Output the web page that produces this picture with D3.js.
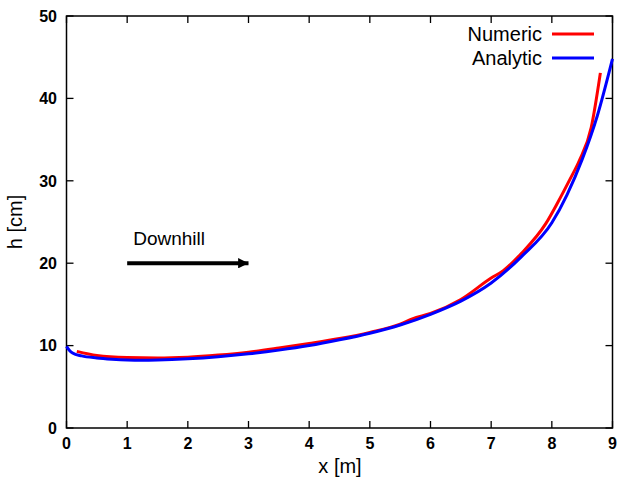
<!DOCTYPE html>
<html><head><meta charset="utf-8">
<script src="https://cdn.jsdelivr.net/npm/d3@7"></script>
<style>body{margin:0;background:#fff}svg{display:block;font-family:"Liberation Sans",Arial,sans-serif}</style>
</head><body>
<svg id="c" width="640" height="480"></svg>
<script>
const xTicks = [0,1,2,3,4,5,6,7,8,9];
const yTicks = [0,10,20,30,40,50];
const numericX = [0.17,0.5,1.0,1.5,2.0,2.5,3.0,3.5,4.0,4.5,5.0,5.5,5.7,6.0,6.5,7.0,7.2,7.5,7.9,8.1,8.3,8.45,8.65,8.8];
const numericH = [9.3,8.8,8.55,8.5,8.6,8.85,9.2,9.7,10.25,10.85,11.6,12.6,13.25,13.9,15.6,18.2,19.1,21.2,24.8,27.4,30.2,32.4,36.5,43.1];
const analyticX = [0,0.05,0.1,0.25,0.5,0.75,1.0,1.25,1.5,2.0,2.5,3.0,3.5,4.0,4.5,5.0,5.5,6.0,6.5,7.0,7.5,8.0,8.25,8.5,8.75,9.0];
const analyticH = [9.9,9.4,9.1,8.75,8.5,8.35,8.25,8.22,8.25,8.4,8.65,9.0,9.45,10.0,10.7,11.5,12.5,13.8,15.4,17.6,20.8,24.9,28.3,32.6,37.9,44.8];
const seriesNames = ["Numeric","Analytic"];
const seriesColors = ["#ff0000","#0000ff"];
const arrowX = [1,3], arrowH = [20,20];
const noteText = "Downhill";

const svg = d3.select("#c");
const x = d3.scaleLinear().domain([0,9]).range([66.5,612.5]);
const y = d3.scaleLinear().domain([0,50]).range([428,16]);

const g = svg.append("g");
g.append("rect").attr("x",66.5).attr("y",16).attr("width",546).attr("height",412)
 .attr("fill","none").attr("stroke","#000").attr("stroke-width",1.5);

const tickLen = 7;
xTicks.forEach(t=>{
  g.append("line").attr("x1",x(t)).attr("x2",x(t)).attr("y1",428).attr("y2",428-tickLen).attr("stroke","#000").attr("stroke-width",1.3);
  g.append("line").attr("x1",x(t)).attr("x2",x(t)).attr("y1",16).attr("y2",16+tickLen).attr("stroke","#000").attr("stroke-width",1.3);
  g.append("text").attr("x",x(t)).attr("y",449).attr("text-anchor","middle")
   .attr("font-size",16).attr("font-weight","bold").text(t);
});
yTicks.forEach(t=>{
  g.append("line").attr("x1",66.5).attr("x2",66.5+tickLen).attr("y1",y(t)).attr("y2",y(t)).attr("stroke","#000").attr("stroke-width",1.3);
  g.append("line").attr("x1",612.5).attr("x2",612.5-tickLen).attr("y1",y(t)).attr("y2",y(t)).attr("stroke","#000").attr("stroke-width",1.3);
  g.append("text").attr("x",57).attr("y",y(t)).attr("dy","0.36em").attr("text-anchor","end")
   .attr("font-size",16).attr("font-weight","bold").text(t);
});

g.append("text").attr("x",340).attr("y",473).attr("text-anchor","middle").attr("font-size",20).text("x [m]");
g.append("text").attr("transform","translate(22,222) rotate(-90)").attr("text-anchor","middle").attr("font-size",20).text("h [cm]");

const lineN = d3.line().x(d=>x(d[0])).y(d=>y(d[1])).curve(d3.curveMonotoneX);
const lineA = d3.line().x(d=>x(d[0])).y(d=>y(d[1])).curve(d3.curveMonotoneX);
const plot = svg.append("g");
plot.append("path").datum(numericX.map((v,i)=>[v,numericH[i]])).attr("d",lineN)
 .attr("fill","none").attr("stroke",seriesColors[0]).attr("stroke-width",3);
plot.append("path").datum(analyticX.map((v,i)=>[v,analyticH[i]])).attr("d",lineA)
 .attr("fill","none").attr("stroke",seriesColors[1]).attr("stroke-width",3);

seriesNames.forEach((n,i)=>{
  const yy = 34 + i*24;
  svg.append("text").attr("x",542).attr("y",yy).attr("dy","0.35em").attr("text-anchor","end").attr("font-size",20).text(n);
  svg.append("line").attr("x1",552).attr("x2",594).attr("y1",yy).attr("y2",yy).attr("stroke",seriesColors[i]).attr("stroke-width",3);
});

const defs = svg.append("defs");
defs.append("marker").attr("id","ah").attr("viewBox","0 0 10 10").attr("refX",10).attr("refY",5)
 .attr("markerWidth",3.5).attr("markerHeight",2.6).attr("markerUnits","strokeWidth").attr("orient","auto")
 .append("path").attr("d","M0,0 L10,5 L0,10 Z").attr("fill","#000");
svg.append("line").attr("x1",x(arrowX[0])).attr("x2",x(arrowX[1])).attr("y1",y(arrowH[0])).attr("y2",y(arrowH[1]))
 .attr("stroke","#000").attr("stroke-width",4).attr("marker-end","url(#ah)");
svg.append("text").attr("x",x(1.1)).attr("y",245).attr("font-size",19).text(noteText);
</script>
</body></html>
